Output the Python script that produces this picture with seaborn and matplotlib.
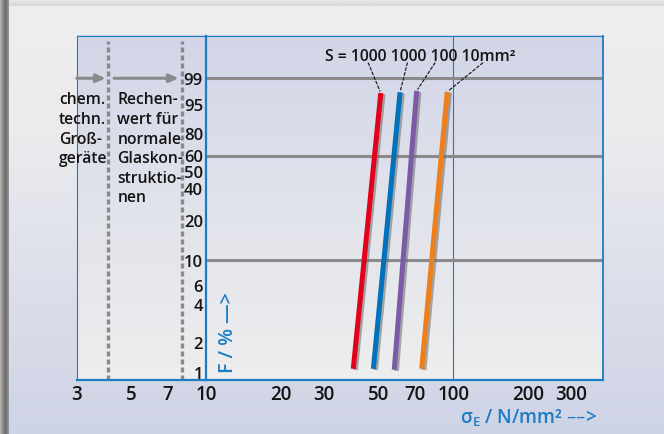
import numpy as np
import pandas as pd
import matplotlib
matplotlib.use("Agg")
import matplotlib.pyplot as plt
import matplotlib.patheffects as pe
from matplotlib.colors import to_rgb
from matplotlib.ticker import NullLocator, NullFormatter
import seaborn as sns

sns.set_theme(style="white")
plt.rcParams["font.family"] = ["Open Sans", "DejaVu Sans"]

# ---- data -------------------------------------------------------------
surface_labels = ["1000", "1000", "100", "10mm²"]
sigma_low = [39.4, 47.5, 57.7, 74.5]        # N/mm² at the lower end
sigma_high = [50.9, 60.9, 71.1, 94.5]       # N/mm² at the upper end
f_low = [1.08, 1.08, 1.06, 1.08]            # failure probability, %
f_high = [96.6, 96.8, 97.1, 96.9]
line_colors = ["#E2001A", "#0072BC", "#7B5BA6", "#EE7F1B"]

y_ticks = [1, 2, 4, 6, 10, 20, 40, 50, 60, 80, 95, 99]
x_ticks_left = [3, 5, 7]
x_ticks_main = [10, 20, 30, 50, 70, 100, 200, 300]
grid_levels = [10, 60, 99]
limit_values = [4, 8]                       # dashed design limits
arrow_spans = [(3.0, 3.93), (4.25, 7.75)]   # arrows along the 99 % line
leader_x = [45.3, 65.2, 84.3, 131.5]        # leader start under each S value
note_left = "chem.\ntechn.\nGroß-\ngeräte"
note_right = "Rechen-\nwert für\nnormale\nGlaskon-\nstruktio-\nnen"

BLUE = "#1B7DC3"
GRAY = "#8A8A8A"
INK = "#141414"
WEIGHT = "semibold"
W, H = 664, 435

# vertical nudges (points, downward) so the crowded probability labels stay apart
y_label_nudge = [1.3, 3.6, 0.4, 1.4, 1.4, -1.2, 4.2, 2.7, 0.7, 4.5, 5.3, 1.0]


def weib_fwd(p):
    p = np.clip(np.asarray(p, dtype=float), 1e-6, 100 - 1e-9)
    return np.log(-np.log(1 - p / 100.0))


def weib_inv(z):
    return 100.0 * (1 - np.exp(-np.exp(np.asarray(z, dtype=float))))


def vgrad(stops, n=256):
    pos = np.linspace(0, 1, n)
    cols = np.array([to_rgb(c) for _, c in stops])
    ps = [p for p, _ in stops]
    rgb = np.stack([np.interp(pos, ps, cols[:, k]) for k in range(3)], axis=-1)
    return rgb[:, None, :]


def hgrad(stops, n=64):
    return np.transpose(vgrad(stops, n), (1, 0, 2))


fig = plt.figure(figsize=(W / 100, H / 100), dpi=100)

# ---- background panel and plot-area shading (pixel coordinates) --------
bg = fig.add_axes([0, 0, 1, 1], zorder=-10)
bg.set_xlim(0, W)
bg.set_ylim(H, 0)
bg.axis("off")
bg.imshow(vgrad([(0, "#E9E9E9"), (1, "#D6D6D6")]), extent=(0, W, 8, 0), aspect="auto")
bg.imshow(hgrad([(0, "#B8B8B8"), (0.6, "#6A6A6A"), (1, "#979797")]),
          extent=(0, 9, H, 0), aspect="auto")
bg.imshow(vgrad([(0, "#EEEEEE"), (0.3, "#EBEBEE"), (1, "#CED3E6")]),
          extent=(9, W, H, 7), aspect="auto")
bg.imshow(vgrad([(0, "#D1D5E7"), (0.45, "#E0E2EB"), (1, "#EEEEEE")]),
          extent=(76.7, 602.7, 381, 36.7), aspect="auto")

# ---- axes ---------------------------------------------------------------
bottom = 1 - 381 / H
height = (381 - 36.7) / H
ax_left = fig.add_axes([76.7 / W, bottom, (206 - 76.7) / W, height])
ax_main = fig.add_axes([206 / W, bottom, (602.7 - 206) / W, height], sharey=ax_left)

for ax in (ax_left, ax_main):
    ax.set_facecolor("none")
    ax.set_xscale("log")
    ax.set_yscale("function", functions=(weib_fwd, weib_inv))
    ax.xaxis.set_minor_locator(NullLocator())
    ax.xaxis.set_minor_formatter(NullFormatter())
    ax.yaxis.set_minor_locator(NullLocator())
    for s in ax.spines.values():
        s.set_color(BLUE)
        s.set_linewidth(0.8)
    ax.spines["bottom"].set_linewidth(1.6)

ax_left.set_xlim(3, 10)
ax_main.set_xlim(10, 401.8)
ax_main.set_ylim(weib_inv(-4.755), weib_inv(2.413))

ax_left.spines["right"].set_visible(False)
ax_main.spines["left"].set_linewidth(1.6)
ax_main.spines["right"].set_linewidth(1.3)

# probability labels sit just left of the 10 N/mm² line
ax_main.set_yticks(y_ticks)
ax_main.tick_params(axis="y", length=0, labelleft=False)
ax_left.tick_params(axis="y", length=0, labelleft=False)
for v, dy in zip(y_ticks, y_label_nudge):
    ax_main.annotate(str(v), xy=(10, v), xytext=(-2.2, -dy), textcoords="offset points",
                     ha="right", va="center", fontsize=12, color=INK,
                     fontweight=WEIGHT, annotation_clip=False)

ax_left.set_xticks(x_ticks_left)
ax_left.set_xticklabels([str(v) for v in x_ticks_left])
ax_main.set_xticks(x_ticks_main)
ax_main.set_xticklabels([str(v) for v in x_ticks_main])
for ax in (ax_left, ax_main):
    ax.tick_params(axis="x", length=0, pad=3, labelsize=13.5, labelcolor=INK)
    for t in ax.get_xticklabels():
        t.set_fontweight(WEIGHT)

# reference lines
ax_main.axvline(100, color=BLUE, lw=0.8, zorder=1)
for lvl in grid_levels:
    ax_main.axhline(lvl, color=GRAY, lw=2.2, zorder=1)

for v in limit_values:
    ax_left.axvline(v, ymin=0, ymax=0.985, color=GRAY, lw=2.4,
                    dashes=(1.5, 0.9), zorder=1)
for x0, x1 in arrow_spans:
    ax_left.annotate("", xy=(x1, 99), xytext=(x0, 99),
                     arrowprops=dict(arrowstyle="-|>,head_length=0.45,head_width=0.2",
                                     color=GRAY, lw=2.2, shrinkA=0, shrinkB=0))

blend_l = ax_left.get_xaxis_transform()
ax_left.text(2.545, 0.838, note_left, transform=blend_l, ha="left", va="top",
             fontsize=11.3, linespacing=1.3, color=INK, fontweight=WEIGHT, clip_on=False)
ax_left.text(4.38, 0.838, note_right, transform=blend_l, ha="left", va="top",
             fontsize=11.3, linespacing=1.3, color=INK, fontweight=WEIGHT, clip_on=False)

# strength distributions for the different stressed surfaces
rows = []
for i, lab in enumerate(surface_labels):
    rows.append({"series": i, "sigma": sigma_low[i], "F": f_low[i]})
    rows.append({"series": i, "sigma": sigma_high[i], "F": f_high[i]})
df = pd.DataFrame(rows)
sns.lineplot(data=df, x="sigma", y="F", hue="series", palette=line_colors,
             estimator=None, sort=False, legend=False, ax=ax_main, lw=3.6,
             solid_capstyle="butt", zorder=3,
             path_effects=[pe.SimpleLineShadow(offset=(1.6, -0.8),
                                               shadow_color="#6A6A6A", alpha=0.55),
                           pe.Normal()])
ax_main.set_xlabel("")
ax_main.set_ylabel("")
ax_left.set_xlabel("")
ax_left.set_ylabel("")

# surface labels with dotted leaders
blend_m = ax_main.get_xaxis_transform()
ax_main.text(30.3, 0.942, "S = " + " ".join(surface_labels), transform=blend_m,
             ha="left", va="center", fontsize=11.3, color=INK, fontweight=WEIGHT)
for i in range(len(surface_labels)):
    ax_main.annotate("", xy=(sigma_high[i], f_high[i]),
                     xytext=(leader_x[i], 0.921), textcoords=("data", "axes fraction"),
                     arrowprops=dict(arrowstyle="-", color="#222222", lw=0.9,
                                     linestyle=(0, (2.2, 1.8)), shrinkA=0, shrinkB=1.5))

# axis titles
ax_main.text(12.27, 0.023, "F / % —>", transform=blend_m, rotation=90,
             ha="center", va="bottom", fontsize=14, color=BLUE, fontweight=WEIGHT)
fig.text(597 / W, 1 - 418 / H, "σ$_\\mathregular{E}$ / N/mm² ––>", ha="right",
         va="center", fontsize=13.5, color=BLUE, fontweight=WEIGHT)

fig.savefig("out.png", dpi=100)
